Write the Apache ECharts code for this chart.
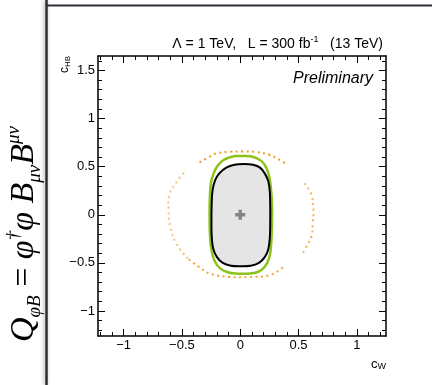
<!DOCTYPE html>
<html>
<head>
<meta charset="utf-8">
<script src="https://cdn.jsdelivr.net/npm/echarts@6/dist/echarts.min.js"></script>
<style>
  html, body { margin: 0; padding: 0; background: #fff; }
  #chart { width: 432px; height: 385px; }
</style>
</head>
<body>
<div id="chart"></div>
<script>
// Allowed regions in the (c_W, c_HB) plane for Λ = 1 TeV, L = 300 fb^-1

// Axis ranges and tick positions
const xRange = [-1.22, 1.25];
const yRange = [-1.26, 1.65];
const xMajorTicks = [-1, -0.5, 0, 0.5, 1];
const xMinorTicks = [-1.2, -1.1, -0.9, -0.8, -0.7, -0.6, -0.4, -0.3, -0.2, -0.1,
                     0.1, 0.2, 0.3, 0.4, 0.6, 0.7, 0.8, 0.9, 1.1, 1.2];
const yMajorTicks = [-1, -0.5, 0, 0.5, 1, 1.5];
const yMinorTicks = [-1.2, -1.1, -0.9, -0.8, -0.7, -0.6, -0.4, -0.3, -0.2, -0.1,
                     0.1, 0.2, 0.3, 0.4, 0.6, 0.7, 0.8, 0.9, 1.1, 1.2, 1.3, 1.4, 1.6];

// Best-fit point
const bestFit = [[0, 0]];

// Inner contour (filled grey, black outline)
const contourBlack = [
  [0.03, 0.528], [0.11, 0.52], [0.17, 0.49], [0.21, 0.43], [0.24, 0.35],
  [0.253, 0.25], [0.257, 0.1], [0.257, -0.1], [0.253, -0.25], [0.24, -0.36],
  [0.21, -0.44], [0.16, -0.5], [0.09, -0.53], [0.0, -0.535], [-0.08, -0.53],
  [-0.15, -0.5], [-0.2, -0.44], [-0.232, -0.35], [-0.245, -0.22], [-0.247, -0.05],
  [-0.245, 0.12], [-0.237, 0.26], [-0.215, 0.36], [-0.18, 0.43], [-0.12, 0.49],
  [-0.05, 0.52]
];

// Green contour
const contourGreen = [
  [0.02, 0.61], [0.1, 0.605], [0.18, 0.56], [0.223, 0.49], [0.25, 0.39],
  [0.265, 0.25], [0.272, 0.1], [0.272, -0.1], [0.265, -0.3], [0.25, -0.44],
  [0.21, -0.54], [0.15, -0.595], [0.07, -0.612], [-0.02, -0.612], [-0.1, -0.6],
  [-0.17, -0.56], [-0.22, -0.48], [-0.248, -0.36], [-0.26, -0.2], [-0.263, 0.0],
  [-0.26, 0.2], [-0.25, 0.34], [-0.225, 0.44], [-0.2, 0.5], [-0.15, 0.565],
  [-0.09, 0.596], [-0.04, 0.61]
];

// Orange dotted contour, in pieces
const orangeTop = [
  [-0.349, 0.545], [-0.249, 0.614], [-0.206, 0.638], [-0.092, 0.655], [0.022, 0.658],
  [0.137, 0.652], [0.251, 0.624], [0.322, 0.58], [0.394, 0.528]
];
const orangeRight = [
  [0.551, 0.327], [0.608, 0.217], [0.628, 0.045], [0.622, -0.093], [0.608, -0.232],
  [0.523, -0.421]
];
const orangeBottom = [
  [0.365, -0.549], [0.251, -0.628], [0.08, -0.646], [-0.092, -0.646], [-0.263, -0.611],
  [-0.363, -0.535], [-0.449, -0.456]
];
const orangeLeft = [
  [-0.449, -0.456], [-0.548, -0.3], [-0.6, -0.128], [-0.614, 0.045], [-0.606, 0.217],
  [-0.548, 0.337], [-0.477, 0.441]
];

const chart = echarts.init(document.getElementById('chart'), null, { renderer: 'canvas' });

const FONT = 'Liberation Sans, Arial, sans-serif';
const SERIF = 'Liberation Serif, DejaVu Serif, serif';
const fmt = v => (v < 0 ? '\u2212' : '') + Math.abs(v);

function xAxisDef(position, ticks, len, withLabels, withLine) {
  return {
    type: 'value', position, min: xRange[0], max: xRange[1],
    axisLine: { show: withLine, onZero: false, lineStyle: { color: '#000', width: 1.5 } },
    splitLine: { show: false },
    axisTick: { show: true, inside: true, length: len, customValues: ticks,
                lineStyle: { color: '#000', width: 1 } },
    axisLabel: withLabels
      ? { customValues: xMajorTicks, formatter: fmt, color: '#000', fontSize: 13,
          fontFamily: FONT, margin: 3 }
      : { show: false }
  };
}
function yAxisDef(position, ticks, len, withLabels, withLine) {
  return {
    type: 'value', position, min: yRange[0], max: yRange[1],
    axisLine: { show: withLine, onZero: false, lineStyle: { color: '#000', width: 1.5 } },
    splitLine: { show: false },
    axisTick: { show: true, inside: true, length: len, customValues: ticks,
                lineStyle: { color: '#000', width: 1 } },
    axisLabel: withLabels
      ? { customValues: yMajorTicks, formatter: fmt, color: '#000', fontSize: 13,
          fontFamily: FONT, margin: 3 }
      : { show: false }
  };
}

// Closed or open curve through a list of (c_W, c_HB) points
function curveSeries(points, closed, style, z) {
  return {
    type: 'custom',
    coordinateSystem: 'cartesian2d',
    xAxisIndex: 0, yAxisIndex: 0,
    data: [points[0]],
    z,
    silent: true,
    clip: true,
    renderItem: (params, api) => {
      const pts = points.map(p => api.coord(p));
      return {
        type: closed ? 'polygon' : 'polyline',
        shape: { points: pts, smooth: closed ? 0.35 : 0.4 },
        style
      };
    }
  };
}

const orangeStyle = op => ({
  fill: null, stroke: '#f29a1c', lineWidth: 2, lineDash: [2, 3.5], opacity: op
});

chart.setOption({
  animation: false,
  backgroundColor: '#fff',
  grid: { left: 98, top: 56, right: 46, bottom: 49, containLabel: false },
  xAxis: [
    xAxisDef('bottom', xMajorTicks, 7, true, true),
    xAxisDef('bottom', xMinorTicks, 4, false, false),
    xAxisDef('top', xMajorTicks, 7, false, true),
    xAxisDef('top', xMinorTicks, 4, false, false)
  ],
  yAxis: [
    yAxisDef('left', yMajorTicks, 7, true, true),
    yAxisDef('left', yMinorTicks, 4, false, false),
    yAxisDef('right', yMajorTicks, 7, false, true),
    yAxisDef('right', yMinorTicks, 4, false, false)
  ],
  series: [
    curveSeries(orangeTop, false, orangeStyle(1), 2),
    curveSeries(orangeRight, false, orangeStyle(0.75), 2),
    curveSeries(orangeBottom, false, orangeStyle(0.9), 2),
    curveSeries(orangeLeft, false, orangeStyle(0.6), 2),
    curveSeries(contourGreen, true, { fill: null, stroke: '#8cc21a', lineWidth: 2.5 }, 3),
    curveSeries(contourBlack, true, { fill: '#e5e5e5', stroke: '#000', lineWidth: 2 }, 4),
    {
      type: 'scatter',
      xAxisIndex: 0, yAxisIndex: 0,
      data: bestFit,
      z: 6,
      symbol: 'path://M3,0H6V3H9V6H6V9H3V6H0V3H3Z',
      symbolSize: 10,
      itemStyle: { color: '#6b6b6b' },
      silent: true
    }
  ],
  graphic: [
    // panel frame
    { type: 'line', z: 10, shape: { x1: 46.5, y1: 0, x2: 46.5, y2: 385 },
      style: { stroke: '#2b3038', lineWidth: 2.5, shadowBlur: 4,
               shadowColor: 'rgba(0,0,0,0.35)', shadowOffsetX: -1 } },
    { type: 'line', z: 10, shape: { x1: 46, y1: 5.5, x2: 432, y2: 5.5 },
      style: { stroke: '#2b3038', lineWidth: 2 } },
    // operator label
    { type: 'text', z: 10, x: 24, y: 234, rotation: Math.PI / 2,
      style: {
        text: '{q|Q}{s|\u03c6B}{n| = }{q|\u03c6}{p|\u2020}{q|\u03c6 B}{s|\u03bc\u03bd}{q|B}{p|\u03bc\u03bd}',
        align: 'center', verticalAlign: 'middle',
        rich: {
          q: { fontSize: 34, lineHeight: 40, fontStyle: 'italic', fontFamily: SERIF, color: '#111' },
          n: { fontSize: 34, lineHeight: 40, fontFamily: SERIF, color: '#111' },
          s: { fontSize: 19, lineHeight: 19, verticalAlign: 'bottom', fontStyle: 'italic',
               fontFamily: SERIF, color: '#111' },
          p: { fontSize: 19, lineHeight: 19, verticalAlign: 'top', fontStyle: 'italic',
               fontFamily: SERIF, color: '#111' }
        }
      } },
    // header
    { type: 'text', z: 10, x: 383, y: 44,
      style: {
        text: '{a|\u039b = 1 TeV,   L = 300 fb}{p|-1}{a|   (13 TeV)}',
        align: 'right', verticalAlign: 'middle',
        rich: {
          a: { fontSize: 14, lineHeight: 17, fontFamily: FONT, color: '#000' },
          p: { fontSize: 9, lineHeight: 9, verticalAlign: 'top', fontFamily: FONT, color: '#000' }
        }
      } },
    { type: 'text', z: 10, x: 373, y: 79,
      style: { text: 'Preliminary', align: 'right', verticalAlign: 'middle',
               fontSize: 16, fontStyle: 'italic', fontFamily: FONT, fill: '#000' } },
    // axis titles
    { type: 'text', z: 10, x: 65, y: 56, rotation: Math.PI / 2,
      style: {
        text: '{c|c}{s|HB}', align: 'right', verticalAlign: 'middle',
        rich: {
          c: { fontSize: 12, lineHeight: 14, fontFamily: FONT, color: '#000' },
          s: { fontSize: 8, lineHeight: 8, verticalAlign: 'bottom', fontFamily: FONT, color: '#000' }
        }
      } },
    { type: 'text', z: 10, x: 386, y: 364,
      style: {
        text: '{c|c}{s|W}', align: 'right', verticalAlign: 'middle',
        rich: {
          c: { fontSize: 13, lineHeight: 15, fontFamily: FONT, color: '#000' },
          s: { fontSize: 9, lineHeight: 9, verticalAlign: 'bottom', fontFamily: FONT, color: '#000' }
        }
      } }
  ]
});
</script>
</body>
</html>
